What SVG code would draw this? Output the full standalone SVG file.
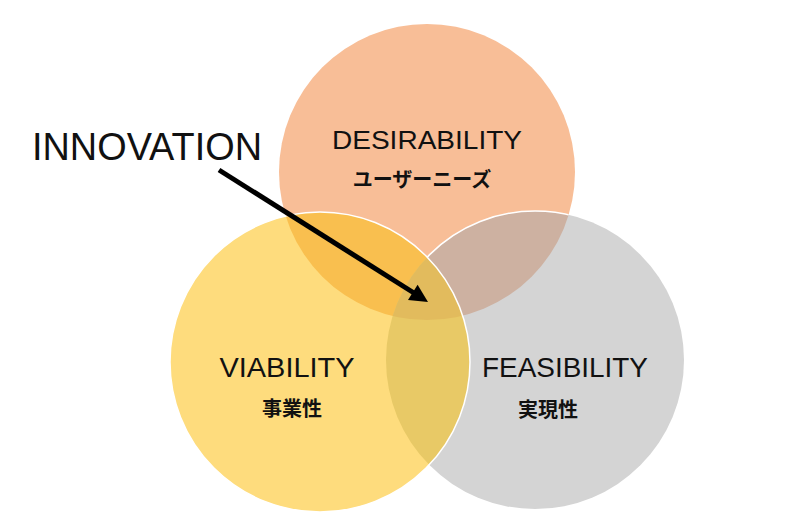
<svg xmlns="http://www.w3.org/2000/svg" width="800" height="516" viewBox="0 0 800 516">
<style>
.lat{font-family:"Liberation Sans",Arial,sans-serif;fill:#111;}
.cjk{font-family:"Noto Sans CJK JP","Noto Sans",sans-serif;font-weight:bold;fill:#111;font-size:20px;}
</style>
<defs>
<circle id="cO" cx="427" cy="172" r="148"/>
<circle id="cY" cx="320" cy="362" r="150"/>
<circle id="cG" cx="535" cy="360" r="149"/>
<clipPath id="clO"><use href="#cO"/></clipPath>
<clipPath id="clY"><use href="#cY"/></clipPath>
<clipPath id="clG"><use href="#cG"/></clipPath>
</defs>
<rect width="800" height="516" fill="#fff"/>
<g id="desirability">
<use href="#cO" fill="#F8BE97"/>
</g>
<g id="feasibility">
<use href="#cG" fill="#D4D4D4"/>
<g clip-path="url(#clO)"><use href="#cG" fill="#CDB1A1" stroke="#fff" stroke-width="1.5"/></g>
</g>
<g id="viability">
<use href="#cY" fill="#FEDC7D"/>
<g clip-path="url(#clO)"><use href="#cY" fill="#F9BF4F"/></g>
<g clip-path="url(#clG)"><use href="#cY" fill="#E8C966"/>
<g clip-path="url(#clO)"><use href="#cY" fill="#E2BB5D"/></g></g>
<use href="#cY" fill="none" stroke="#fff" stroke-width="1.5"/>
</g>
<g id="labels">
<text class="lat" x="427" y="149" font-size="25" text-anchor="middle" textLength="190" lengthAdjust="spacingAndGlyphs">DESIRABILITY</text>
<text class="cjk" x="422" y="187" text-anchor="middle">ユーザーニーズ</text>
<text class="lat" x="287" y="377" font-size="27" text-anchor="middle" textLength="135" lengthAdjust="spacingAndGlyphs">VIABILITY</text>
<text class="cjk" x="292" y="416" text-anchor="middle">事業性</text>
<text class="lat" x="565" y="377" font-size="27" text-anchor="middle" textLength="166" lengthAdjust="spacingAndGlyphs">FEASIBILITY</text>
<text class="cjk" x="548" y="417" text-anchor="middle">実現性</text>
</g>
<g id="innovation">
<text class="lat" x="32" y="160" font-size="38" textLength="230" lengthAdjust="spacingAndGlyphs">INNOVATION</text>
</g>
<g id="connectors">
<line x1="219" y1="170" x2="414" y2="293" stroke="#000" stroke-width="5"/>
<polygon points="428,302 408,300 417.6,284.8" fill="#000"/>
</g>
</svg>
